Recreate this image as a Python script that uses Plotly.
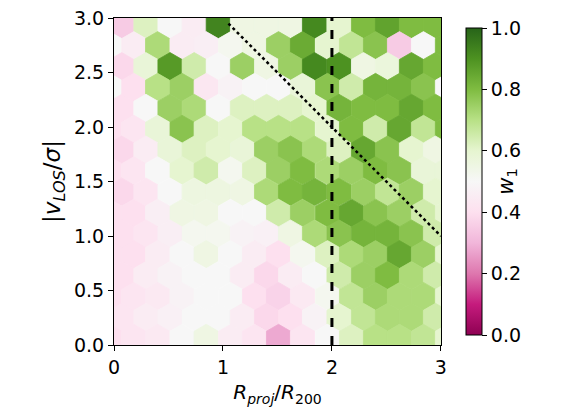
import numpy as np
import plotly.graph_objects as go
from plotly.colors import sample_colorscale

# hexbin lattice (centres)
x_a = [0.071, 0.293, 0.514, 0.736, 0.957, 1.179, 1.40, 1.62, 1.84, 2.065, 2.29, 2.51, 2.73, 2.95]
x_b = [-0.04, 0.182, 0.40, 0.625, 0.846, 1.07, 1.29, 1.51, 1.73, 1.96, 2.18, 2.40, 2.62, 2.84, 3.06]
row_y = [2.94, 2.748, 2.556, 2.365, 2.173, 1.98, 1.79, 1.60,
         1.405, 1.21, 1.02, 0.83, 0.638, 0.446, 0.254, 0.062]

# mean w1 per hexagon, top row first; even rows use x_a, odd rows x_b
w1_rows = [
    [0.35, 0.62, 0.50, 0.45, 0.93, 0.55, 0.55, 0.55, 0.92, 0.60, 0.80, 0.86, 0.80, 0.80],
    [0.50, 0.45, 0.72, 0.45, 0.46, 0.52, 0.55, 0.75, 0.84, 0.60, 0.68, 0.78, 0.35, 0.50, 0.80],
    [0.38, 0.58, 0.88, 0.65, 0.50, 0.75, 0.55, 0.75, 0.92, 0.90, 0.55, 0.57, 0.85, 0.80],
    [0.50, 0.40, 0.70, 0.75, 0.43, 0.48, 0.50, 0.50, 0.58, 0.78, 0.65, 0.82, 0.82, 0.78, 0.50],
    [0.40, 0.50, 0.75, 0.72, 0.50, 0.62, 0.62, 0.62, 0.60, 0.82, 0.80, 0.80, 0.85, 0.80],
    [0.40, 0.42, 0.58, 0.78, 0.62, 0.60, 0.70, 0.70, 0.70, 0.60, 0.80, 0.65, 0.85, 0.68, 0.80],
    [0.38, 0.45, 0.58, 0.62, 0.60, 0.58, 0.75, 0.78, 0.72, 0.62, 0.85, 0.78, 0.60, 0.55],
    [0.40, 0.42, 0.50, 0.60, 0.65, 0.52, 0.62, 0.75, 0.80, 0.72, 0.75, 0.80, 0.78, 0.58, 0.58],
    [0.38, 0.42, 0.50, 0.56, 0.56, 0.55, 0.72, 0.80, 0.82, 0.80, 0.75, 0.68, 0.75, 0.60],
    [0.40, 0.40, 0.46, 0.55, 0.55, 0.50, 0.50, 0.65, 0.75, 0.80, 0.85, 0.78, 0.75, 0.65, 0.60],
    [0.40, 0.42, 0.46, 0.52, 0.52, 0.48, 0.47, 0.55, 0.72, 0.78, 0.82, 0.82, 0.78, 0.65],
    [0.40, 0.40, 0.45, 0.50, 0.55, 0.50, 0.45, 0.40, 0.52, 0.62, 0.72, 0.75, 0.85, 0.75, 0.60],
    [0.40, 0.45, 0.48, 0.50, 0.50, 0.45, 0.38, 0.45, 0.50, 0.65, 0.75, 0.80, 0.72, 0.65],
    [0.40, 0.42, 0.44, 0.48, 0.50, 0.50, 0.40, 0.37, 0.44, 0.52, 0.68, 0.75, 0.72, 0.72, 0.60],
    [0.42, 0.45, 0.47, 0.50, 0.50, 0.45, 0.38, 0.40, 0.48, 0.60, 0.68, 0.72, 0.72, 0.65],
    [0.40, 0.42, 0.44, 0.50, 0.55, 0.45, 0.42, 0.28, 0.42, 0.50, 0.62, 0.70, 0.70, 0.68, 0.60],
]

xs, ys, ws = [], [], []
for k, (y, row) in enumerate(zip(row_y, w1_rows)):
    cols = x_a if k % 2 == 0 else x_b
    xs += cols
    ys += [y] * len(cols)
    ws += row

edge_colors = sample_colorscale("PiYG", ws)
font = dict(family="DejaVu Sans", size=19, color="black")
title_font = dict(family="DejaVu Sans", size=20, color="black")

fig = go.Figure()
fig.add_trace(go.Scatter(
    x=xs, y=ys, mode="markers", cliponaxis=True, showlegend=False,
    marker=dict(
        symbol="hexagon", size=27.9, color=ws, colorscale="PiYG", cmin=0, cmax=1,
        line=dict(color=edge_colors, width=0.8),
        colorbar=dict(
            x=1.046, xanchor="left", y=0.5, len=1.0, thickness=16,
            outlinecolor="black", outlinewidth=1,
            tickvals=[0, 0.2, 0.4, 0.6, 0.8, 1.0], ticktext=["0.0", "0.2", "0.4", "0.6", "0.8", "1.0"],
            ticks="outside", ticklen=5, tickcolor="black", tickfont=font,
            title=dict(text="<i>w</i><sub>1</sub>", side="right", font=dict(title_font, size=21)),
        ),
    ),
))
fig.add_trace(go.Scatter(x=[2, 2], y=[0, 3], mode="lines", showlegend=False,
                         line=dict(color="black", width=3, dash="dash")))
fig.add_trace(go.Scatter(x=[1.05, 3], y=[2.95, 1.0], mode="lines", showlegend=False,
                         line=dict(color="black", width=2.5, dash="dot")))

axis = dict(showgrid=False, zeroline=False, ticks="outside", ticklen=5, automargin=False,
            tickcolor="black", showline=True, linecolor="black", linewidth=1.2, mirror=True,
            tickfont=font, ticklabeloverflow="allow")
fig.update_layout(
    width=570, height=413, margin=dict(l=106, r=137, t=10, b=76),
    plot_bgcolor="white", paper_bgcolor="white",
    xaxis=dict(axis, range=[0, 3.001], tickvals=[0, 1, 2, 3],
               title=dict(text="<i>R<sub>proj</sub></i>/<i>R</i><sub>200</sub>", font=title_font, standoff=8)),
    yaxis=dict(axis, range=[0, 3.001], tickvals=[0, 0.5, 1, 1.5, 2, 2.5, 3],
               ticktext=["0.0", "0.5", "1.0", "1.5", "2.0", "2.5", "3.0"],
               title=dict(text="|<i>v<sub>LOS</sub></i>/<i>σ</i>|", font=dict(title_font, size=23), standoff=6)),
)
fig.write_html("out.html")
